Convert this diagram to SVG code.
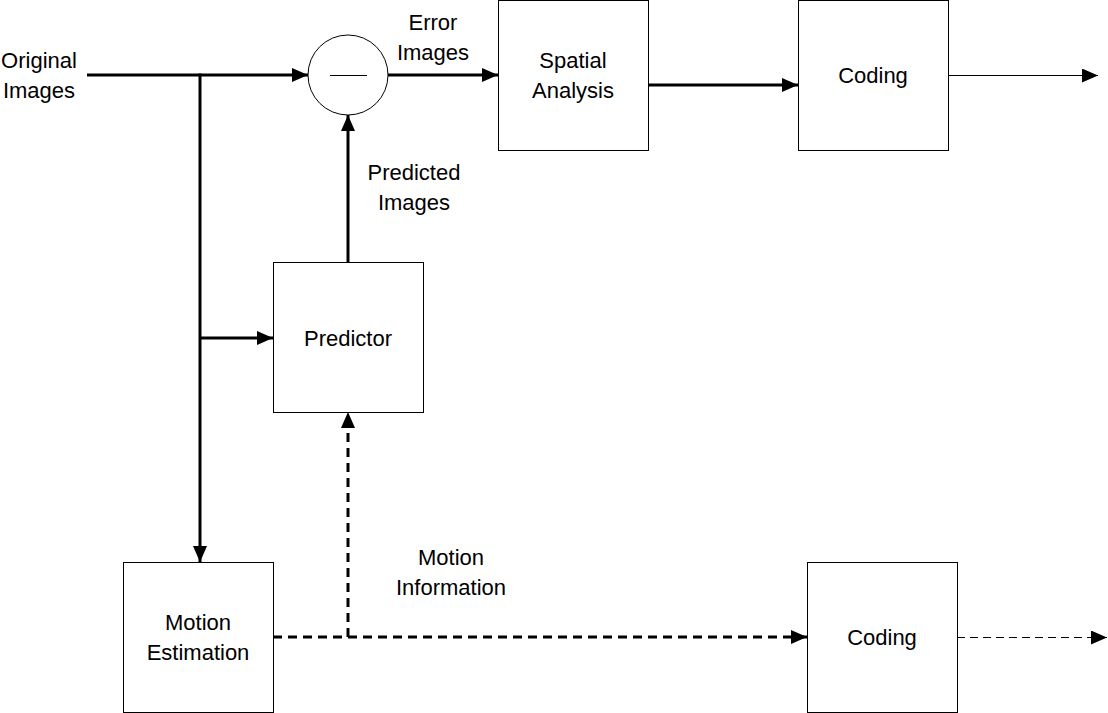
<svg xmlns="http://www.w3.org/2000/svg" width="1108" height="713" viewBox="0 0 1108 713">
<style>
.box{fill:#fff;stroke:#000;stroke-width:1}
.t{font-family:"Liberation Sans","DejaVu Sans",sans-serif;font-size:22px;fill:#000;text-anchor:middle;dominant-baseline:central}
.thick{stroke:#000;stroke-width:3;fill:none}
.thin{stroke:#000;stroke-width:1;fill:none}
.dash{stroke-dasharray:9 6}
.tdash{stroke-dasharray:8 5}
</style>
<defs>
<marker id="ah" markerUnits="userSpaceOnUse" markerWidth="16" markerHeight="14" refX="16" refY="7" orient="auto">
<path d="M0,0 L16,7 L0,14 Z" fill="#000"/>
</marker>
</defs>
<rect x="0" y="0" width="1108" height="713" fill="#fff"/>
<g id="connectors">
<line class="thick" x1="87" y1="75" x2="308" y2="75" marker-end="url(#ah)"/>
<line class="thick" x1="200" y1="73.5" x2="200" y2="562" marker-end="url(#ah)"/>
<line class="thick" x1="200" y1="338" x2="273" y2="338" marker-end="url(#ah)"/>
<line class="thick" x1="348" y1="262" x2="348" y2="115" marker-end="url(#ah)"/>
<line class="thick" x1="388" y1="75" x2="498" y2="75" marker-end="url(#ah)"/>
<line class="thick" x1="648" y1="85" x2="798" y2="85" marker-end="url(#ah)"/>
<line class="thin" x1="948" y1="75.5" x2="1098" y2="75.5" marker-end="url(#ah)"/>
<line class="thick dash" x1="273" y1="637" x2="807" y2="637" marker-end="url(#ah)"/>
<polyline class="thick dash" points="348,637 348,412" marker-end="url(#ah)"/>
<line class="thin tdash" x1="957" y1="637.5" x2="1107" y2="637.5" marker-end="url(#ah)"/>
</g>
<g id="label-original"><text class="t" x="39" y="60">Original</text><text class="t" x="39" y="90">Images</text></g>
<g id="subtract">
<circle cx="348" cy="75" r="40" fill="#fff" stroke="#000" stroke-width="1"/>
<line x1="330" y1="75.5" x2="367" y2="75.5" stroke="#000" stroke-width="1"/>
</g>
<g id="label-error"><text class="t" x="433" y="22">Error</text><text class="t" x="433" y="52">Images</text></g>
<g id="spatial"><rect class="box" x="498.5" y="0.5" width="150" height="150"/><text class="t" x="573" y="60">Spatial</text><text class="t" x="573" y="90">Analysis</text></g>
<g id="coding1"><rect class="box" x="798.5" y="0.5" width="150" height="150"/><text class="t" x="873" y="75">Coding</text></g>
<g id="label-predicted"><text class="t" x="414" y="172">Predicted</text><text class="t" x="414" y="202">Images</text></g>
<g id="predictor"><rect class="box" x="273.5" y="262.5" width="150" height="150"/><text class="t" x="348" y="338">Predictor</text></g>
<g id="label-motion"><text class="t" x="451" y="557">Motion</text><text class="t" x="451" y="587">Information</text></g>
<g id="motion-estimation"><rect class="box" x="123.5" y="562.5" width="150" height="150"/><text class="t" x="198" y="622">Motion</text><text class="t" x="198" y="652">Estimation</text></g>
<g id="coding2"><rect class="box" x="807.5" y="562.5" width="150" height="150"/><text class="t" x="882" y="637">Coding</text></g>
</svg>
